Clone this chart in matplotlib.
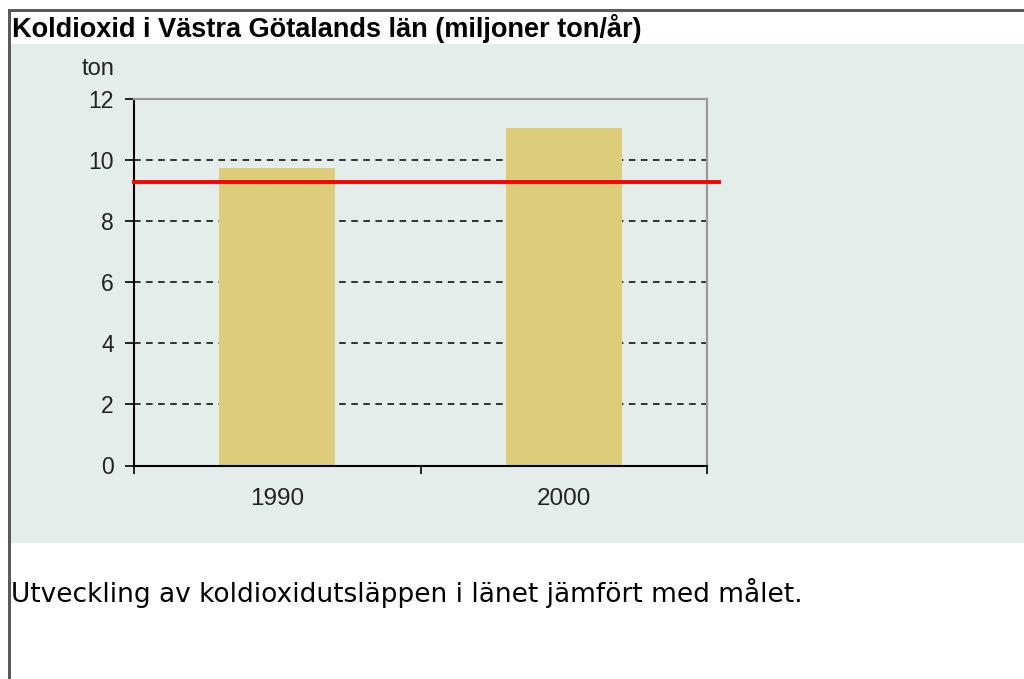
import matplotlib.pyplot as plt
from matplotlib.patches import Rectangle

# data
years = ["1990", "2000"]
emissions = [9.73, 11.04]   # miljoner ton/år
target = 9.28               # målet
y_ticks = [0, 2, 4, 6, 8, 10, 12]

W, H = 1024, 679
panel_color = "#E5EDEB"
bar_color = "#DDCC7A"
tick_font = "Liberation Sans"

fig = plt.figure(figsize=(W / 100, H / 100), dpi=100)
fig.patch.set_facecolor("white")

# light panel behind the chart
fig.patches.append(Rectangle((11 / W, (H - 543) / H), 1.0, 499 / H,
                             transform=fig.transFigure, facecolor=panel_color,
                             edgecolor="none", zorder=-2))
# table border, top and left
fig.patches.append(Rectangle((8 / W, (H - 12) / H), 1.0, 3 / H,
                             transform=fig.transFigure, facecolor="#5A5A5A",
                             edgecolor="none", zorder=-1))
fig.patches.append(Rectangle((8 / W, 0), 3 / W, (H - 9) / H,
                             transform=fig.transFigure, facecolor="#5A5A5A",
                             edgecolor="none", zorder=-1))

fig.text(12 / W, (H - 37) / H, "Koldioxid i Västra Götalands län (miljoner ton/år)",
         fontfamily="Liberation Sans", fontweight="bold", fontsize=19.5,
         va="baseline", ha="left", color="black")
fig.text(11 / W, (H - 602) / H,
         "Utveckling av koldioxidutsläppen i länet jämfört med målet.",
         fontfamily="DejaVu Sans", fontsize=19, va="baseline", ha="left",
         color="black")
fig.text(82 / W, (H - 75) / H, "ton", fontfamily=tick_font, fontsize=17,
         va="baseline", ha="left", color="#222222")

ax = fig.add_axes([134 / W, (H - 465.5) / H, 573 / W, 366.5 / H])
ax.set_zorder(1)
ax.set_facecolor(panel_color)

x = list(range(len(years)))
ax.bar(x, emissions, width=0.405, color=bar_color, zorder=2)
ax.axhline(target, xmin=0, xmax=1.021, color="#FF0000", lw=2.8,
           clip_on=False, zorder=4)

ax.set_xlim(-0.5, len(years) - 0.5)
ax.set_ylim(0, 12)
ax.set_yticks(y_ticks)
ax.set_yticklabels([str(v) for v in y_ticks])
ax.set_xticks(x)
ax.set_xticklabels(years)
ax.set_xticks([i - 0.5 for i in range(len(years) + 1)], minor=True)

ax.set_axisbelow(True)
ax.yaxis.grid(True, color="black", lw=1.1, linestyle=(0, (4.3, 3.6)))
# no dashed line on top of the grey top frame
ax.yaxis.get_gridlines()[-1].set_visible(False)

ax.tick_params(axis="y", direction="out", length=6.5, width=1.2, pad=8,
               labelsize=16.5, labelcolor="#222222")
ax.tick_params(axis="x", which="major", length=0, pad=16.5,
               labelsize=17.5, labelcolor="#222222")
ax.tick_params(axis="x", which="minor", direction="out", length=6, width=1.2)
for lab in ax.get_xticklabels() + ax.get_yticklabels():
    lab.set_fontfamily(tick_font)

ax.spines["left"].set_color("black")
ax.spines["bottom"].set_color("black")
ax.spines["left"].set_linewidth(1.5)
ax.spines["bottom"].set_linewidth(1.5)
ax.spines["top"].set_color("#999999")
ax.spines["right"].set_color("#999999")
ax.spines["top"].set_linewidth(1.6)
ax.spines["right"].set_linewidth(1.6)

fig.savefig("out.png", dpi=100)
